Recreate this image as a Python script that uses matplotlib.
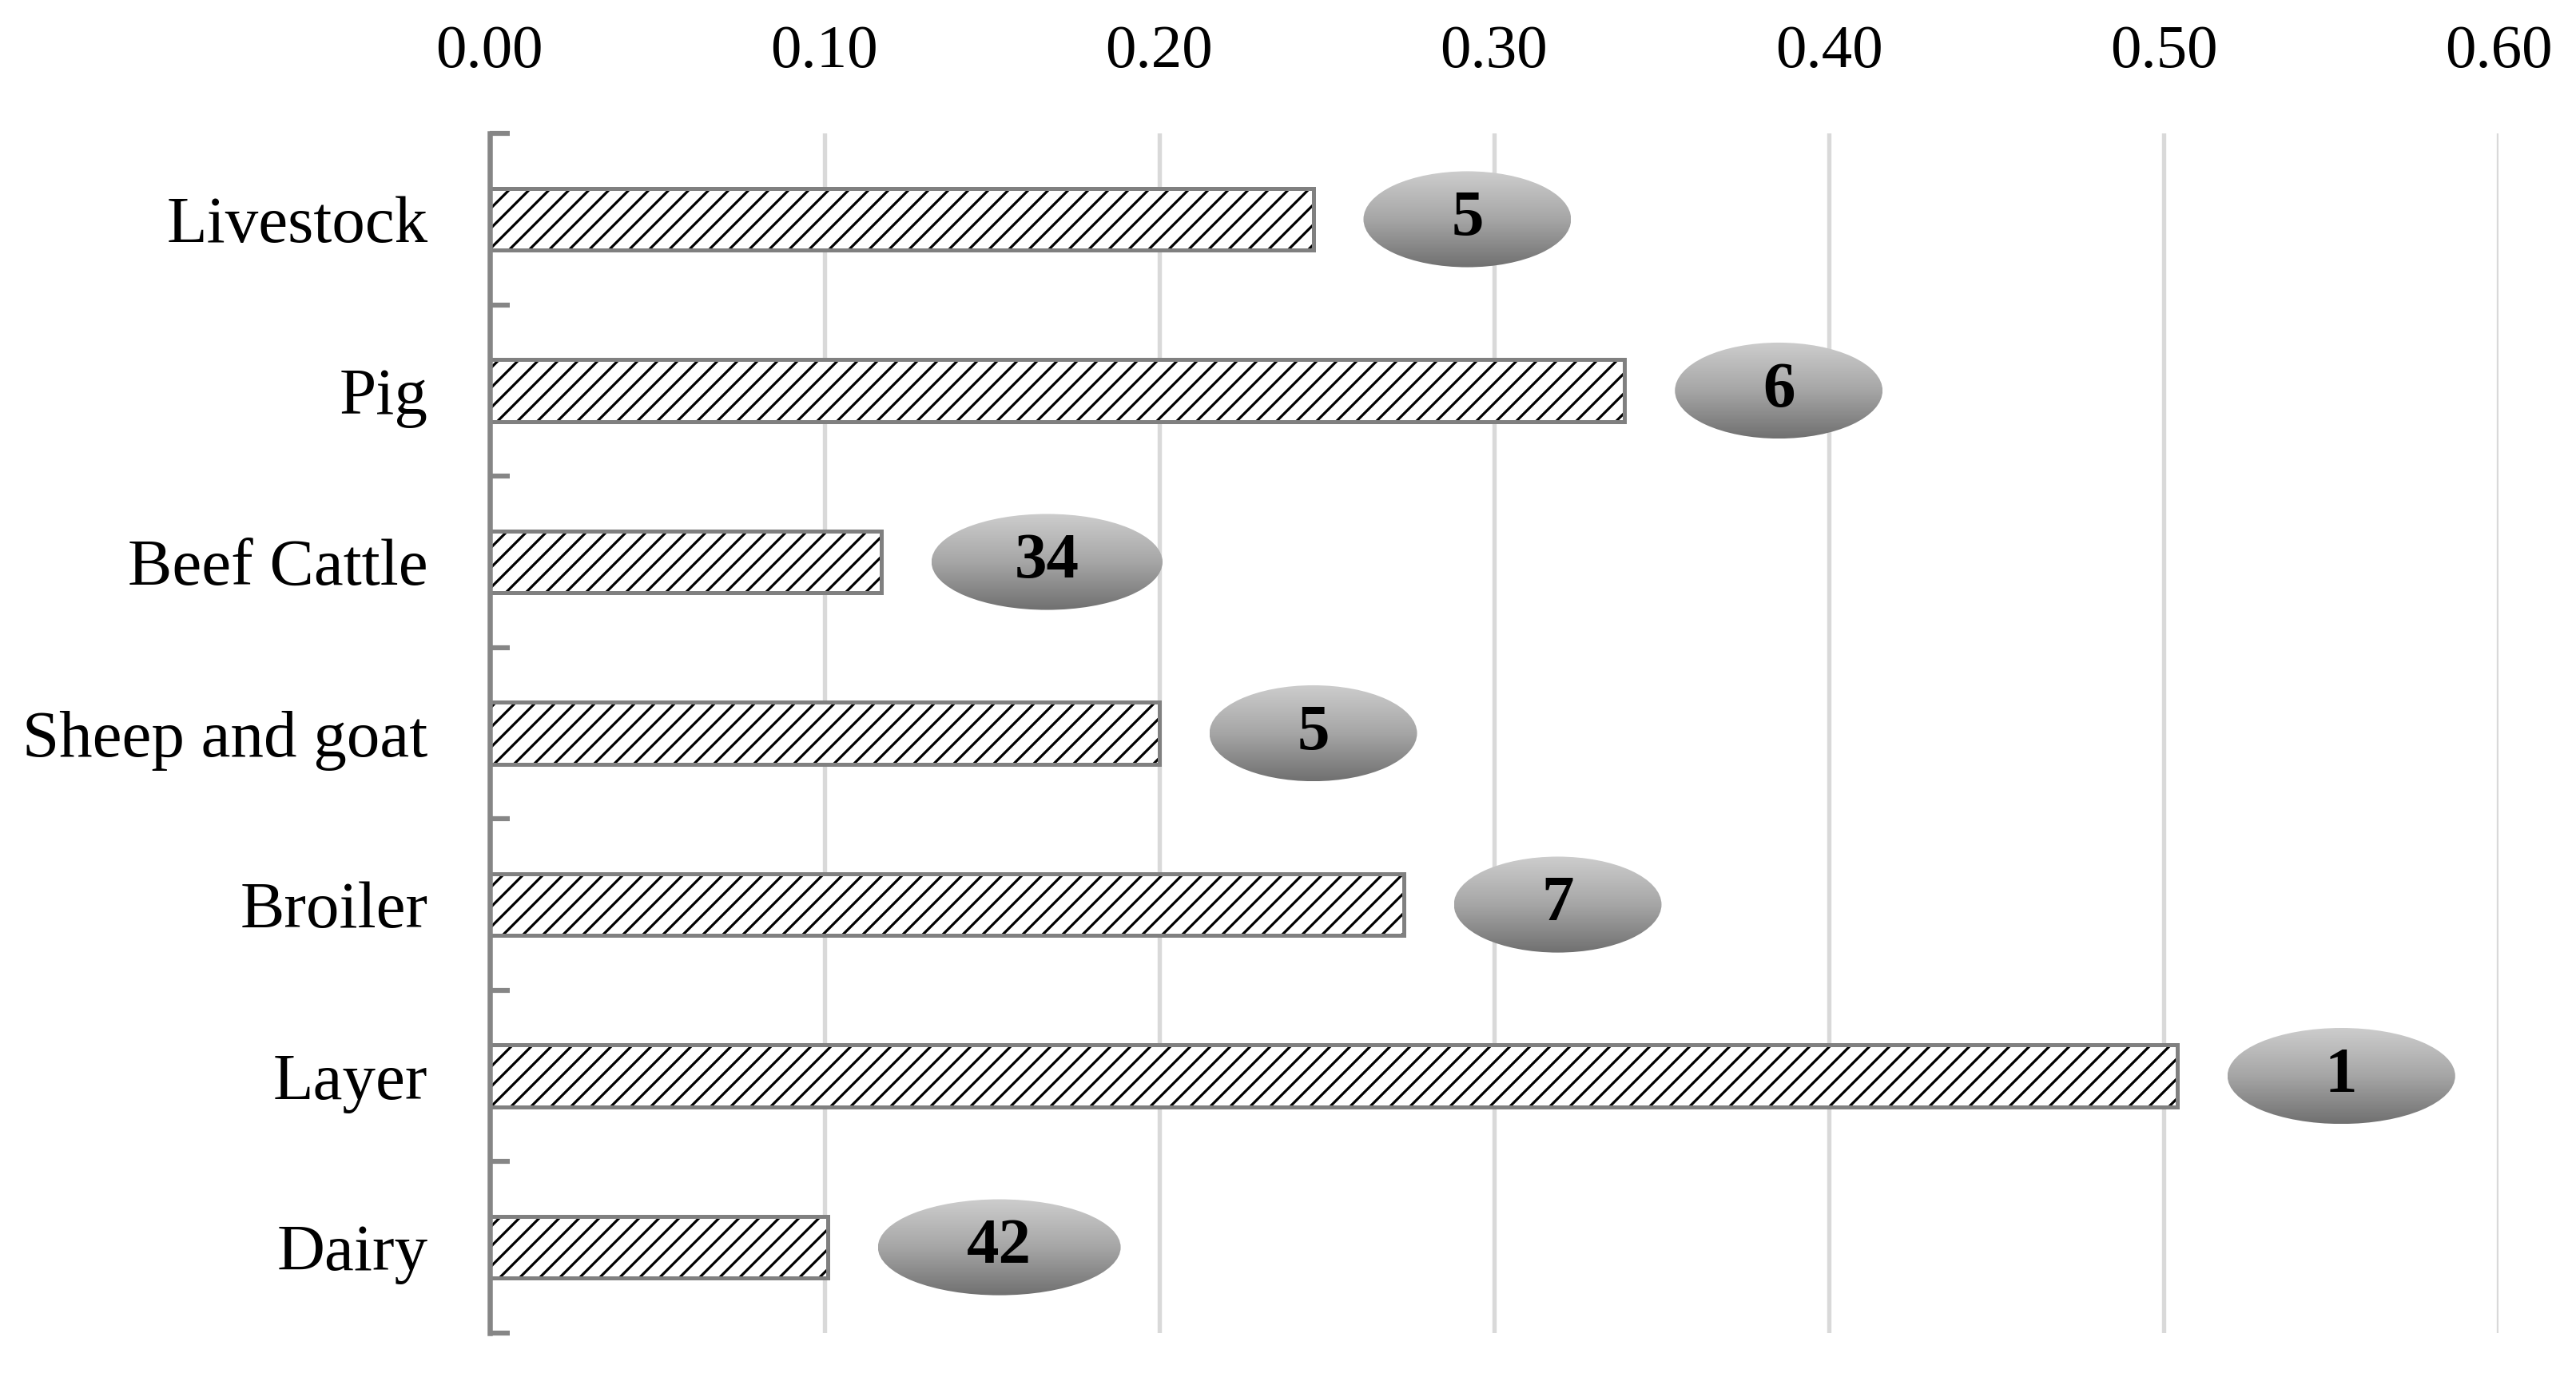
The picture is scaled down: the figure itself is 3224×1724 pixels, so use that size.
#!/usr/bin/env python3

"""Hatched horizontal bars per livestock sector with ranked badges."""

import matplotlib

matplotlib.use("Agg")
import matplotlib.pyplot as plt
import numpy as np
from matplotlib.colors import LinearSegmentedColormap
from matplotlib.patches import Ellipse

CATEGORIES = ["Livestock", "Pig", "Beef Cattle", "Sheep and goat", "Broiler", "Layer", "Dairy"]
VALUES = [0.246, 0.339, 0.117, 0.200, 0.273, 0.504, 0.101]
BADGE_LABELS = ["5", "6", "34", "5", "7", "1", "42"]
X_TICKS = [0.0, 0.1, 0.2, 0.3, 0.4, 0.5, 0.6]

# style -- '//' at dpi 150 gives the hatch a 25 px line spacing like the original
DPI = 150
FONT = ["Liberation Serif", "DejaVu Serif"]
AXIS_GREY = "#868686"
GRID_GREY = "#d9d9d9"
BAR_HEIGHT = 0.36
BADGE_HEIGHT = 0.56
BADGE_GAP = 0.0150
BADGE_WIDTHS = [0.062, 0.062, 0.069, 0.062, 0.062, 0.068, 0.0725]


def px(value: float) -> float:
    """Pixels to points at the output dpi."""
    return value * 72.0 / DPI


def draw_badge(ax, cmap, cx, cy, width, label) -> None:
    shape = Ellipse((cx, cy), width=width, height=BADGE_HEIGHT, facecolor="none", edgecolor="none", zorder=3)
    ax.add_patch(shape)
    gradient = np.linspace(0.0, 1.0, 256).reshape(-1, 1)
    img = ax.imshow(
        gradient,
        cmap=cmap,
        extent=[cx - width / 2, cx + width / 2, cy - BADGE_HEIGHT / 2, cy + BADGE_HEIGHT / 2],
        origin="upper",
        aspect="auto",
        interpolation="bilinear",
        zorder=3,
    )
    img.set_clip_path(shape)
    ax.text(cx, cy, label, ha="center", va="center", fontsize=px(81), fontweight="bold",
            family=FONT, color="black", zorder=4)


def main() -> None:
    plt.rcParams["font.family"] = FONT
    plt.rcParams["hatch.linewidth"] = px(3.2)

    fig = plt.figure(figsize=(3224 / DPI, 1724 / DPI), dpi=DPI, facecolor="white")
    ax = fig.add_axes([0.190, 0.032, 0.780, 0.871])

    n = len(CATEGORIES)
    ypos = np.arange(n)[::-1].astype(float)

    ax.barh(ypos, VALUES, height=BAR_HEIGHT, color="white", edgecolor="black",
            linewidth=0, hatch="//", zorder=2)
    ax.barh(ypos, VALUES, height=BAR_HEIGHT, fill=False, edgecolor="#808080",
            linewidth=px(5), zorder=2.5)

    cmap = LinearSegmentedColormap.from_list("badge", ["#cdcdcd", "#a6a6a6", "#707070"])
    for value, y, label, width in zip(VALUES, ypos, BADGE_LABELS, BADGE_WIDTHS):
        draw_badge(ax, cmap, value + BADGE_GAP + width / 2, y, width, label)

    ax.set_xlim(0.0, 0.6)
    ax.set_ylim(-0.5, n - 0.5)

    ax.xaxis.tick_top()
    ax.set_xticks(X_TICKS)
    ax.set_xticklabels([f"{t:.2f}" for t in X_TICKS])
    ax.tick_params(axis="x", length=0, pad=px(67), labelsize=px(77))

    ax.set_yticks(ypos)
    ax.set_yticklabels(CATEGORIES)
    ax.set_yticks(np.arange(n + 1) - 0.5, minor=True)
    ax.tick_params(axis="y", which="major", length=0, pad=px(77), labelsize=px(83))
    ax.tick_params(axis="y", which="minor", direction="in", length=px(25), width=px(6.2), color=AXIS_GREY)

    ax.grid(True, axis="x", color=GRID_GREY, linewidth=px(5.4))
    ax.grid(False, axis="y")
    ax.set_axisbelow(True)
    for name, spine in ax.spines.items():
        spine.set_visible(name == "left")
    ax.spines["left"].set_color(AXIS_GREY)
    ax.spines["left"].set_linewidth(px(6.5))
    ax.spines["left"].set_zorder(5)

    fig.savefig("out.png", dpi=DPI, facecolor="white")
    plt.close(fig)


if __name__ == "__main__":
    main()
